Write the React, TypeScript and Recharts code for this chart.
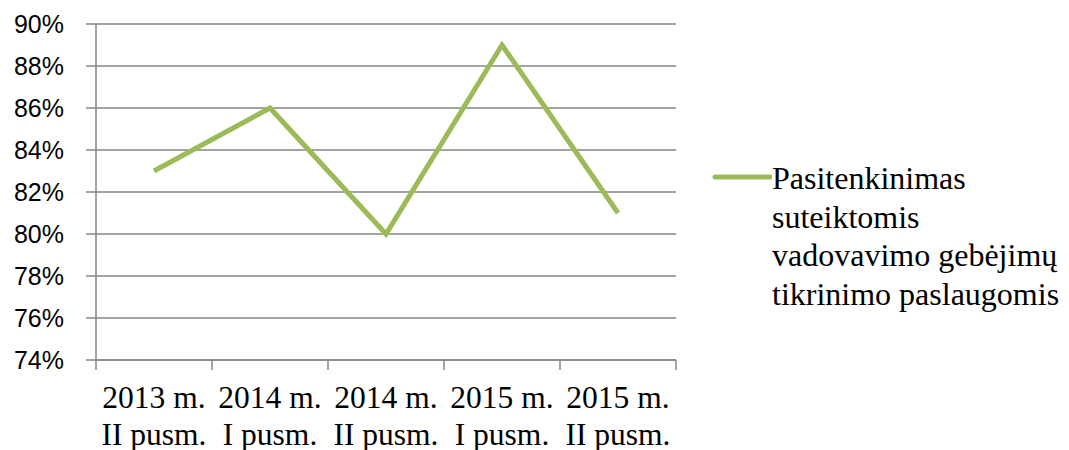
import { LineChart, Line, XAxis, YAxis, CartesianGrid, Legend } from 'recharts';

const categories = [
  ['2013 m.', 'II pusm.'],
  ['2014 m.', 'I pusm.'],
  ['2014 m.', 'II pusm.'],
  ['2015 m.', 'I pusm.'],
  ['2015 m.', 'II pusm.'],
];
const satisfaction = [83, 86, 80, 89, 81];
const yTicks = [74, 76, 78, 80, 82, 84, 86, 88, 90];
const seriesName = 'Pasitenkinimas suteiktomis vadovavimo gebėjimų tikrinimo paslaugomis';
const legendLines = ['Pasitenkinimas', 'suteiktomis', 'vadovavimo gebėjimų', 'tikrinimo paslaugomis'];

const data = categories.map((c, i) => ({ label: c.join('\n'), value: satisfaction[i] }));

const W = 1069;
const H = 450;
const margin = { top: 24, right: 393, bottom: 0, left: 0 };
const yAxisWidth = 96;
const plotW = W - margin.left - margin.right - yAxisWidth;
const band = plotW / categories.length;

const GREEN = '#9BBB59';
const GRID = '#868686';
const SERIF = "'Liberation Serif', 'Times New Roman', serif";

function XTick(props: any) {
  const { x, y, payload, index } = props;
  const [l1, l2] = String(payload.value).split('\n');
  const left = x - band / 2;
  return (
    <g>
      <line x1={left} x2={left} y1={y} y2={y + 10} stroke={GRID} strokeWidth={1.5} />
      {index === categories.length - 1 && (
        <line x1={x + band / 2} x2={x + band / 2} y1={y} y2={y + 10} stroke={GRID} strokeWidth={1.5} />
      )}
      <text x={x} y={y + 48} textAnchor="middle" fontFamily={SERIF} fontSize={31.5} fill="#000">
        {l1}
      </text>
      <text x={x} y={y + 85} textAnchor="middle" fontFamily={SERIF} fontSize={31.5} fill="#000">
        {l2}
      </text>
    </g>
  );
}

function LegendContent() {
  return (
    <div style={{ display: 'flex', alignItems: 'flex-start' }}>
      <svg width={60} height={20} style={{ marginTop: 8 }}>
        <line x1={3} x2={58} y1={10} y2={10} stroke={GREEN} strokeWidth={5} strokeLinecap="round" />
      </svg>
      <div style={{ fontFamily: SERIF, fontSize: 32, lineHeight: '38.5px', color: '#000' }}>
        {legendLines.map((l) => (
          <div key={l} style={{ whiteSpace: 'nowrap' }}>{l}</div>
        ))}
      </div>
    </div>
  );
}

export default function App() {
  return (
    <div style={{ position: 'absolute', left: 0, top: 0, width: W, height: H, background: '#fff' }}>
      <LineChart width={W} height={H} data={data} margin={margin}>
        <CartesianGrid horizontal vertical={false} stroke={GRID} strokeWidth={1.5} />
        <XAxis
          dataKey="label"
          height={90}
          interval={0}
          padding={{ left: band / 2, right: band / 2 }}
          tick={<XTick />}
          tickLine={false}
          tickSize={0}
          tickMargin={0}
          axisLine={{ stroke: GRID, strokeWidth: 1.5 }}
        />
        <YAxis
          width={yAxisWidth}
          domain={[74, 90]}
          ticks={yTicks}
          interval={0}
          tickFormatter={(v: number) => `${v}%`}
          tickSize={10}
          tickMargin={22}
          tickLine={{ stroke: GRID, strokeWidth: 1.5 }}
          axisLine={{ stroke: GRID, strokeWidth: 1.5 }}
          tick={{ fill: '#000', fontSize: 25, fontFamily: "'Liberation Sans', Arial, sans-serif" }}
        />
        <Legend
          layout="vertical"
          align="center"
          verticalAlign="middle"
          content={<LegendContent />}
          wrapperStyle={{ left: 712, top: 159, width: 350 }}
        />
        <Line
          type="linear"
          dataKey="value"
          name={seriesName}
          stroke={GREEN}
          strokeWidth={5}
          dot={false}
          isAnimationActive={false}
        />
      </LineChart>
    </div>
  );
}
